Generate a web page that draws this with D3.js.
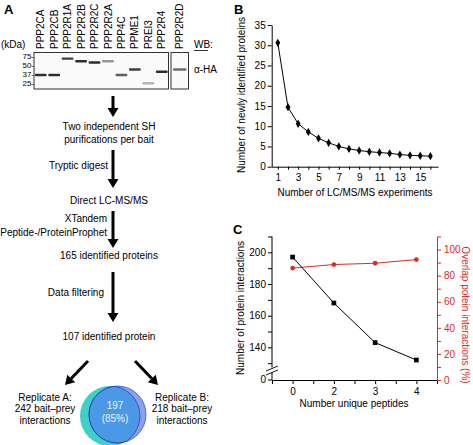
<!DOCTYPE html>
<html><head><meta charset="utf-8">
<script src="https://cdn.jsdelivr.net/npm/d3@7"></script>
<style>
html,body{margin:0;padding:0;background:#fff;}
svg{display:block;font-family:"Liberation Sans",Arial,Helvetica,sans-serif;}
</style></head>
<body>
<svg id="fig" width="473" height="445"></svg>
<script>
// ---------- DATA ----------
const gelLanes = ["PPP2CA","PPP2CB","PPP2R1A","PPP2R2B","PPP2R2C","PPP2R2A","PPP4C","PPME1","PREI3","PPP2R4"];
const gelLanes2 = ["PPP2R2D"];
const markerKDa = [75, 50, 37, 25];
const bandKDa = [36, 36, 69, 62, 59, 62, 36, 45, 26, 41];
const bandStrength = [0.85, 0.85, 0.8, 0.85, 0.85, 0.5, 0.7, 0.8, 0.4, 0.85];
const band2KDa = [45];
const band2Strength = [0.65];

const flowSteps = ["Two independent SH|purifications per bait", "Direct LC-MS/MS", "165 identified proteins", "107 identified protein"];
const flowActions = ["Tryptic digest", "XTandem|Peptide-/ProteinProphet", "Data filtering"];
const replicateA = 242, replicateB = 218, overlapN = 197, overlapPct = 85;

const bExperiments = [1,2,3,4,5,6,7,8,9,10,11,12,13,14,15,16];
const bNewProteins = [30.6,14.7,10.6,8.6,7.0,5.9,5.0,4.4,4.0,3.7,3.5,3.3,3.0,2.8,2.7,2.6];
const bYTicks = [0,5,10,15,20,25,30,35];

const cCategories = ["0","2","3","4"];
const cInteractions = [197,168,143,132];
const cOverlap = [85.8,88.5,89.5,92.3];
const cLeftTicks = [130,140,150,160,170,180,190,200,210];
const cLeftLabels = [140,160,180,200];
const cRightTicks = [0,10,20,30,40,50,60,70,80,90,100,110];
const cRightLabels = [0,20,40,60,80,100];

// ---------- SETUP ----------
const svg = d3.select("#fig");
const RED = "#e02828";
const FS = 10;

function label(x, y, txt, opts={}) {
  return svg.append("text").attr("x", x).attr("y", y).text(txt)
    .attr("font-size", opts.size || FS)
    .attr("font-weight", opts.weight || "normal")
    .attr("text-anchor", opts.anchor || "start")
    .attr("fill", opts.fill || "#000")
    .attr("dominant-baseline", "middle");
}

// ---------- PANEL A : gel ----------
label(4, 11, "A", {size: 13, weight: "bold"});
const gelBox = {x0: 34, x1: 168.5, y0: 52.5, y1: 89};
const gelBox2 = {x0: 171, x1: 188.5};
const laneX = d3.scaleBand().domain(gelLanes).range([gelBox.x0, gelBox.x1]);
const laneX2 = d3.scaleBand().domain(gelLanes2).range([gelBox2.x0, gelBox2.x1]);
const kdaY = d3.scaleLog().domain([75, 25]).range([56.5, 84.3]);

const defs = svg.append("defs");
defs.append("filter").attr("id", "blur").attr("x", "-20%").attr("y", "-100%").attr("width", "140%").attr("height", "300%")
  .append("feGaussianBlur").attr("stdDeviation", 0.7);

svg.append("rect").attr("x", gelBox.x0).attr("y", gelBox.y0).attr("width", gelBox.x1 - gelBox.x0)
  .attr("height", gelBox.y1 - gelBox.y0).attr("fill", "#fafafa").attr("stroke", "#333").attr("stroke-width", 1);
svg.append("rect").attr("x", gelBox2.x0).attr("y", gelBox.y0).attr("width", gelBox2.x1 - gelBox2.x0)
  .attr("height", gelBox.y1 - gelBox.y0).attr("fill", "#fafafa").attr("stroke", "#333").attr("stroke-width", 1);

svg.append("g").selectAll("rect").data(gelLanes).join("rect")
  .attr("x", d => laneX(d) + 0.8).attr("width", laneX.bandwidth() - 1.6)
  .attr("y", (d, i) => kdaY(bandKDa[i]) - 1.2).attr("height", 2.4)
  .attr("rx", 1)
  .attr("fill", (d, i) => d3.interpolateGreys(bandStrength[i]))
  .attr("filter", "url(#blur)");
svg.append("g").selectAll("rect").data(gelLanes2).join("rect")
  .attr("x", d => laneX2(d) + 2).attr("width", laneX2.bandwidth() - 4)
  .attr("y", (d, i) => kdaY(band2KDa[i]) - 1.2).attr("height", 2.4)
  .attr("rx", 1)
  .attr("fill", (d, i) => d3.interpolateGreys(band2Strength[i]))
  .attr("filter", "url(#blur)");

// lane labels
svg.append("g").selectAll("text").data(gelLanes.concat(gelLanes2)).join("text")
  .attr("transform", (d, i) => {
    const cx = i < gelLanes.length ? laneX(d) + laneX.bandwidth() / 2 : laneX2(d) + laneX2.bandwidth() / 2;
    return `translate(${cx + 3.6},49) rotate(-90)`;
  })
  .attr("font-size", FS).text(d => d);

// marker labels (tight stack as in the blot)
const markerNudge = [0, -0.6, 0.6, 0];
svg.append("g").selectAll("text").data(markerKDa).join("text")
  .attr("x", 34).attr("y", (d, i) => kdaY(d) + markerNudge[i]).attr("text-anchor", "end")
  .attr("dominant-baseline", "middle").attr("font-size", 8).text(d => d + "-");
label(1, 45, "(kDa)");
label(194, 45, "WB:");
svg.append("line").attr("x1", 194).attr("x2", 208).attr("y1", 50.5).attr("y2", 50.5).attr("stroke", "#000").attr("stroke-width", 0.8);
label(194, 70, "\u03b1-HA");

// ---------- PANEL A : flowchart ----------
const AX = 113;
function arrow(x1, y1, x2, y2) {
  const ang = Math.atan2(y2 - y1, x2 - x1);
  const hl = 9, hw = 5.5;
  const bx = x2 - hl * Math.cos(ang), by = y2 - hl * Math.sin(ang);
  svg.append("line").attr("x1", x1).attr("y1", y1).attr("x2", bx).attr("y2", by)
    .attr("stroke", "#000").attr("stroke-width", 3);
  const px = -Math.sin(ang) * hw, py = Math.cos(ang) * hw;
  svg.append("path").attr("d", `M${x2},${y2}L${bx + px},${by + py}L${bx - px},${by - py}Z`).attr("fill", "#000");
}
arrow(AX, 96, AX, 117);
const stepY = [[127, 140], [201.5], [256.5], [337.5]];
flowSteps.forEach((s, i) => {
  s.split("|").forEach((line, j) => label(109, stepY[i][j], line, {anchor: "middle"}));
});
arrow(AX, 150, AX, 188);
arrow(AX, 211, AX, 248);
arrow(AX, 272, AX, 322);
const actY = [[166.5], [219.5, 233]];
label(108, 166.5, flowActions[0], {anchor: "end"});
flowActions[1].split("|").forEach((line, j) => label(107, actY[1][j], line, {anchor: "end"}));
label(104, 293, flowActions[2], {anchor: "end"});

arrow(88, 361, 65, 385);
arrow(135, 361, 158, 385);

label(45, 398.5, "Replicate A:", {anchor: "middle"});
label(45, 409.5, replicateA + " bait\u2013prey", {anchor: "middle"});
label(45, 421, "interactions", {anchor: "middle"});
label(182, 398.5, "Replicate B:", {anchor: "middle"});
label(182, 409.5, replicateB + " bait\u2013prey", {anchor: "middle"});
label(182, 421, "interactions", {anchor: "middle"});

// Venn
const rA = 30 * Math.sqrt(replicateA / 242), rB = 30 * Math.sqrt(replicateB / 242);
const cA = [110, 416], cB = [117.5, 414.5];
defs.append("clipPath").attr("id", "clipA").append("circle").attr("cx", cA[0]).attr("cy", cA[1]).attr("r", rA);
defs.append("clipPath").attr("id", "clipB").append("circle").attr("cx", cB[0]).attr("cy", cB[1]).attr("r", rB);
svg.append("circle").attr("cx", cA[0]).attr("cy", cA[1]).attr("r", rA).attr("fill", "#3fd0c8");
svg.append("circle").attr("cx", cB[0]).attr("cy", cB[1]).attr("r", rB).attr("fill", "#8c9ef0").attr("stroke", "#3a55c0").attr("stroke-width", 0.8);
svg.append("circle").attr("cx", cB[0]).attr("cy", cB[1]).attr("r", rB).attr("fill", "#4b98e6")
  .attr("stroke", "#2445b0").attr("stroke-width", 1).attr("clip-path", "url(#clipA)");
svg.append("circle").attr("cx", cA[0]).attr("cy", cA[1]).attr("r", rA).attr("fill", "none")
  .attr("stroke", "#2445b0").attr("stroke-width", 0.8).attr("clip-path", "url(#clipB)");
label(115, 406.5, overlapN, {anchor: "middle", fill: "#e8f4ff"});
label(115, 419.5, "(" + overlapPct + "%)", {anchor: "middle", fill: "#e8f4ff"});

// ---------- PANEL B ----------
label(234, 11, "B", {size: 13, weight: "bold"});
const xB = d3.scaleLinear().domain([0.4, 16.75]).range([271.7, 438]);
const yB = d3.scaleLinear().domain([0, 35]).range([166.7, 25]);
const gBx = svg.append("g").attr("transform", `translate(0,${yB(0)})`)
  .call(d3.axisBottom(xB).tickValues(bExperiments).tickSize(3).tickSizeOuter(0).tickPadding(4)
    .tickFormat(d => d % 2 === 1 ? d : ""));
const gBy = svg.append("g").attr("transform", `translate(${xB(0.4)},0)`)
  .call(d3.axisLeft(yB).tickValues(bYTicks).tickSize(4).tickSizeOuter(0).tickPadding(2));
[gBx, gBy].forEach(g => {
  g.selectAll("text").attr("font-size", FS).attr("fill", "#000");
  g.selectAll("line,path").attr("stroke", "#000");
  g.attr("font-family", null);
});
svg.append("path").datum(bNewProteins)
  .attr("d", d3.line().x((d, i) => xB(bExperiments[i])).y(d => yB(d)))
  .attr("fill", "none").attr("stroke", "#000").attr("stroke-width", 1);
svg.append("g").selectAll("path").data(bNewProteins).join("path")
  .attr("transform", (d, i) => `translate(${xB(bExperiments[i])},${yB(d)})`)
  .attr("d", d3.symbol(d3.symbolDiamond, 20)).attr("fill", "#000");
svg.append("text").attr("transform", `translate(242,95) rotate(-90)`).attr("text-anchor", "middle")
  .attr("dominant-baseline", "middle").attr("font-size", FS).text("Number of newly identified proteins");
label(355, 193, "Number of LC/MS/MS experiments", {anchor: "middle"});

// ---------- PANEL C ----------
label(233, 231, "C", {size: 13, weight: "bold"});
const idx = cCategories.map((d, i) => i);
const xC = d3.scaleLinear().domain([-0.5, 3.5]).range([272, 437]);
const yL = d3.scaleLinear().domain([130, 210]).range([363.2, 236.5]);
const yR = d3.scaleLinear().domain([0, 110]).range([380, 236.5]);
const baseY = yR(0);

const gCx = svg.append("g").attr("transform", `translate(0,${baseY})`)
  .call(d3.axisBottom(xC).tickValues([-0.5,0,0.5,1,1.5,2,2.5,3,3.5]).tickSize(4).tickSizeOuter(0).tickPadding(4)
    .tickFormat(d => Number.isInteger(d) ? cCategories[d] : ""));
const gCl = svg.append("g").attr("transform", `translate(${xC(-0.5)},0)`)
  .call(d3.axisLeft(yL).tickValues(cLeftTicks).tickSize(4).tickSizeOuter(0).tickPadding(2)
    .tickFormat(d => cLeftLabels.includes(d) ? d : ""));
gCl.select(".domain").remove();
svg.append("line").attr("x1", xC(-0.5)).attr("x2", xC(-0.5)).attr("y1", baseY).attr("y2", yL(210)).attr("stroke", "#000");
svg.append("line").attr("x1", xC(-0.5) - 4).attr("x2", xC(-0.5)).attr("y1", baseY).attr("y2", baseY).attr("stroke", "#000");
svg.append("text").attr("x", xC(-0.5) - 6).attr("y", baseY).attr("text-anchor", "end").attr("dominant-baseline", "middle")
  .attr("font-size", FS).text("0");
svg.append("rect").attr("x", xC(-0.5) - 2).attr("y", 367.5).attr("width", 4).attr("height", 4.5).attr("fill", "#fff");
svg.append("line").attr("x1", 266).attr("y1", 371).attr("x2", 278).attr("y2", 366).attr("stroke", "#000").attr("stroke-width", 0.9);
svg.append("line").attr("x1", 266).attr("y1", 375).attr("x2", 278).attr("y2", 370).attr("stroke", "#000").attr("stroke-width", 0.9);

const gCr = svg.append("g").attr("transform", `translate(${xC(3.5)},0)`)
  .call(d3.axisRight(yR).tickValues(cRightTicks).tickSize(4).tickSizeOuter(0).tickPadding(3)
    .tickFormat(d => cRightLabels.includes(d) ? d : ""));
[gCx, gCl].forEach(g => {
  g.selectAll("text").attr("font-size", FS).attr("fill", "#000");
  g.selectAll("line,path").attr("stroke", "#000");
  g.attr("font-family", null);
});
gCr.selectAll("text").attr("font-size", FS).attr("fill", RED);
gCr.selectAll("line,path").attr("stroke", RED);
gCr.attr("font-family", null);

svg.append("path").datum(cOverlap)
  .attr("d", d3.line().x((d, i) => xC(idx[i])).y(d => yR(d)))
  .attr("fill", "none").attr("stroke", RED).attr("stroke-width", 1);
svg.append("g").selectAll("path").data(cOverlap).join("path")
  .attr("transform", (d, i) => `translate(${xC(idx[i])},${yR(d)})`)
  .attr("d", d3.symbol(d3.symbolCircle, 18)).attr("fill", RED);
svg.append("path").datum(cInteractions)
  .attr("d", d3.line().x((d, i) => xC(idx[i])).y(d => yL(d)))
  .attr("fill", "none").attr("stroke", "#000").attr("stroke-width", 1);
svg.append("g").selectAll("path").data(cInteractions).join("path")
  .attr("transform", (d, i) => `translate(${xC(idx[i])},${yL(d)})`)
  .attr("d", d3.symbol(d3.symbolSquare, 22)).attr("fill", "#000");

svg.append("text").attr("transform", `translate(241,308) rotate(-90)`).attr("text-anchor", "middle")
  .attr("dominant-baseline", "middle").attr("font-size", FS).text("Number of protein interactions");
svg.append("text").attr("transform", `translate(465,315) rotate(90)`).attr("text-anchor", "middle")
  .attr("dominant-baseline", "middle").attr("font-size", FS).attr("fill", RED).text("Overlap potein interactions (%)");
label(354, 404, "Number unique peptides", {anchor: "middle"});
</script>
</body></html>
